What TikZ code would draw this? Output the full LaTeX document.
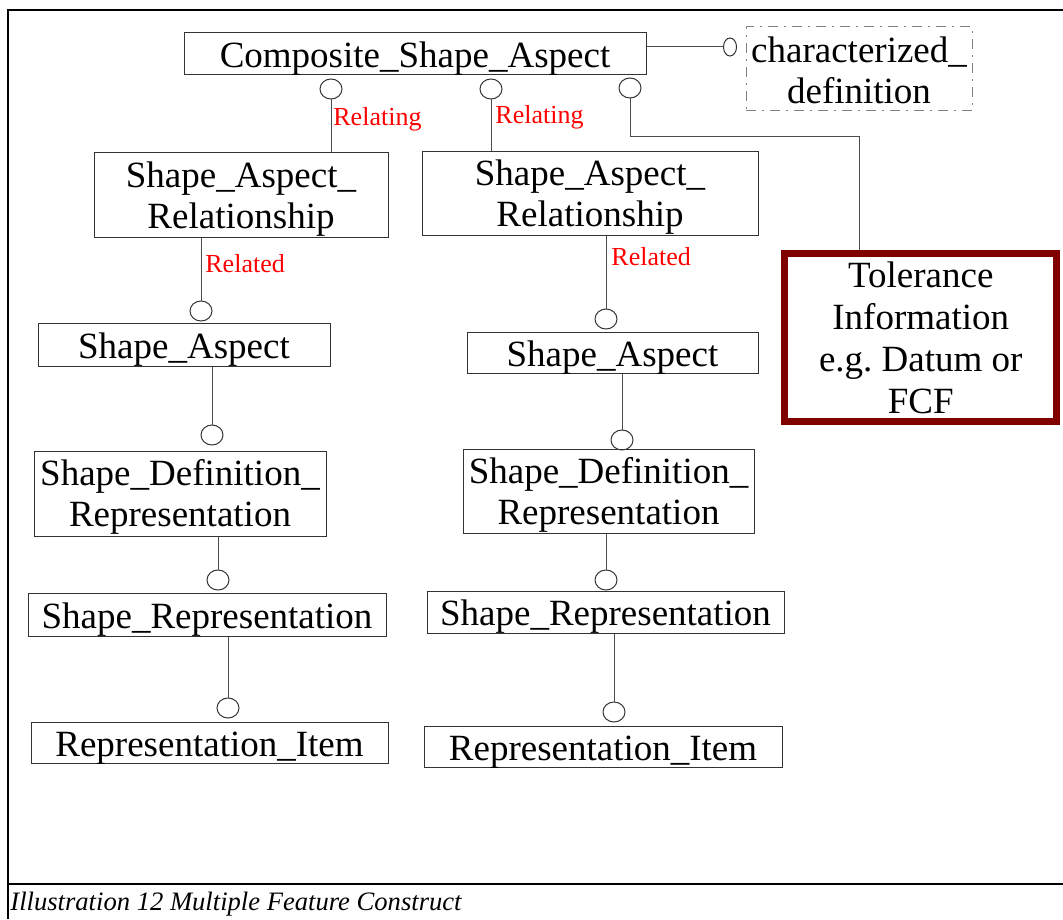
\documentclass[tikz,border=0pt]{standalone}
\usepackage{fontspec}
\setmainfont{Liberation Serif}
\usepackage{tikz}
\usetikzlibrary{shapes.geometric}
\definecolor{tolred}{HTML}{800000}
\tikzset{
    box/.style n args={2}{
        draw=black!80,
        line width=0.5pt,
        align=center,
        inner sep=0pt,
        minimum width=#1,
        minimum height=#2,
        text height=17pt,
        text depth=3.5pt,
        font=\fontsize{18.5pt}{20.5pt}\selectfont
    },
    twoline/.style={text height=37.5pt, text depth=4.5pt},
    port/.style={
        draw=black!80,
        line width=0.5pt,
        ellipse,
        inner sep=0pt,
        minimum width=11pt,
        minimum height=10pt
    },
    link/.style={draw=black!70, line width=0.5pt},
    rolelabel/.style={
        text=red,
        inner sep=0pt,
        anchor=base west,
        font=\fontsize{13pt}{15pt}\selectfont
    }
}

\begin{document}
\begin{tikzpicture}[x=0.5pt,y=-0.5pt]
  \useasboundingbox (0,0) rectangle (1063,919);
  % frame and caption
  \draw[line width=1pt] (1063,10) -- (8,10) -- (8,919);
  \draw[line width=1pt] (8,884) -- (1063,884);
  \node[anchor=base west, inner sep=0pt, font=\fontsize{13.3pt}{15pt}\selectfont\itshape] (caption) at (10,910)
    {Illustration 12 Multiple Feature Construct};

  % top row
  \node[box={231pt}{21pt}] (csa) at (415,54) {Composite\_Shape\_Aspect};
  \node[box={113pt}{42pt}, twoline, text height=38.5pt, text depth=3.5pt, draw=black!50,
        dash pattern=on 5pt off 3pt on 1pt off 3pt] (chardef) at (859,69)
    {characterized\_\\definition};
  \node[port, minimum width=6.5pt, minimum height=9pt] (pcd) at (730,47) {};
  \node[port] (p1) at (331,89) {};
  \node[port] (p2) at (491,89) {};
  \node[port] (p3) at (630,88) {};
  \coordinate (bend) at (859,137);

  % relationships and tolerance
  \node[box={147pt}{42.5pt}, twoline] (sar1) at (241,195.5) {Shape\_Aspect\_\\Relationship};
  \node[box={168pt}{42pt}, twoline] (sar2) at (590,194) {Shape\_Aspect\_\\Relationship};
  \node[box={136pt}{84pt}, draw=tolred, line width=3.5pt, text height=79.75pt, text depth=4.25pt,
        font=\fontsize{18.5pt}{21pt}\selectfont] (tol) at (920.75,337.5)
    {Tolerance\\Information\\e.g.\ Datum or\\FCF};

  % left column
  \node[port] (sap1) at (201,311) {};
  \node[box={146pt}{21.5pt}] (sa1) at (184,344.5) {Shape\_Aspect};
  \node[port] (sdrp1) at (212,435) {};
  \node[box={146pt}{42.5pt}, twoline] (sdr1) at (180,493.5) {Shape\_Definition\_\\Representation};
  \node[port] (srp1) at (218,580) {};
  \node[box={179pt}{21.5pt}] (sr1) at (207,614.5) {Shape\_Representation};
  \node[port] (rip1) at (228,708) {};
  \node[box={178.5pt}{20.5pt}] (ri1) at (209.5,742.5) {Representation\_Item};

  % right column
  \node[port] (sap2) at (606,319) {};
  \node[box={145.5pt}{20.5pt}] (sa2) at (612.5,352.5) {Shape\_Aspect};
  \node[port] (sdrp2) at (622,440) {};
  \node[box={145.5pt}{42pt}, twoline] (sdr2) at (608.5,491) {Shape\_Definition\_\\Representation};
  \node[port] (srp2) at (606,580) {};
  \node[box={178.5pt}{21pt}] (sr2) at (605.5,612) {Shape\_Representation};
  \node[port] (rip2) at (614,712) {};
  \node[box={179pt}{20.5pt}] (ri2) at (603,746.5) {Representation\_Item};

  % role labels
  \node[rolelabel] (rel1) at (333,126) {Relating};
  \node[rolelabel] (rel2) at (495,124) {Relating};
  \node[rolelabel] (red1) at (205,272) {Related};
  \node[rolelabel] (red2) at (611,266) {Related};

  % connectors
  \draw[link] (pcd.west -| csa.east) -- (pcd.west);
  \draw[link] (p1.south) -- (p1 |- sar1.north);
  \draw[link] (p2.south) -- (p2 |- sar2.north);
  \draw[link] (p3.south) |- (bend) -- (bend |- tol.north);
  \foreach \b/\p in {sar1/sap1,sa1/sdrp1,sdr1/srp1,sr1/rip1,sar2/sap2,sa2/sdrp2,sdr2/srp2,sr2/rip2}
    \draw[link] (\b.south -| \p) -- (\p.north);
\end{tikzpicture}
\end{document}
